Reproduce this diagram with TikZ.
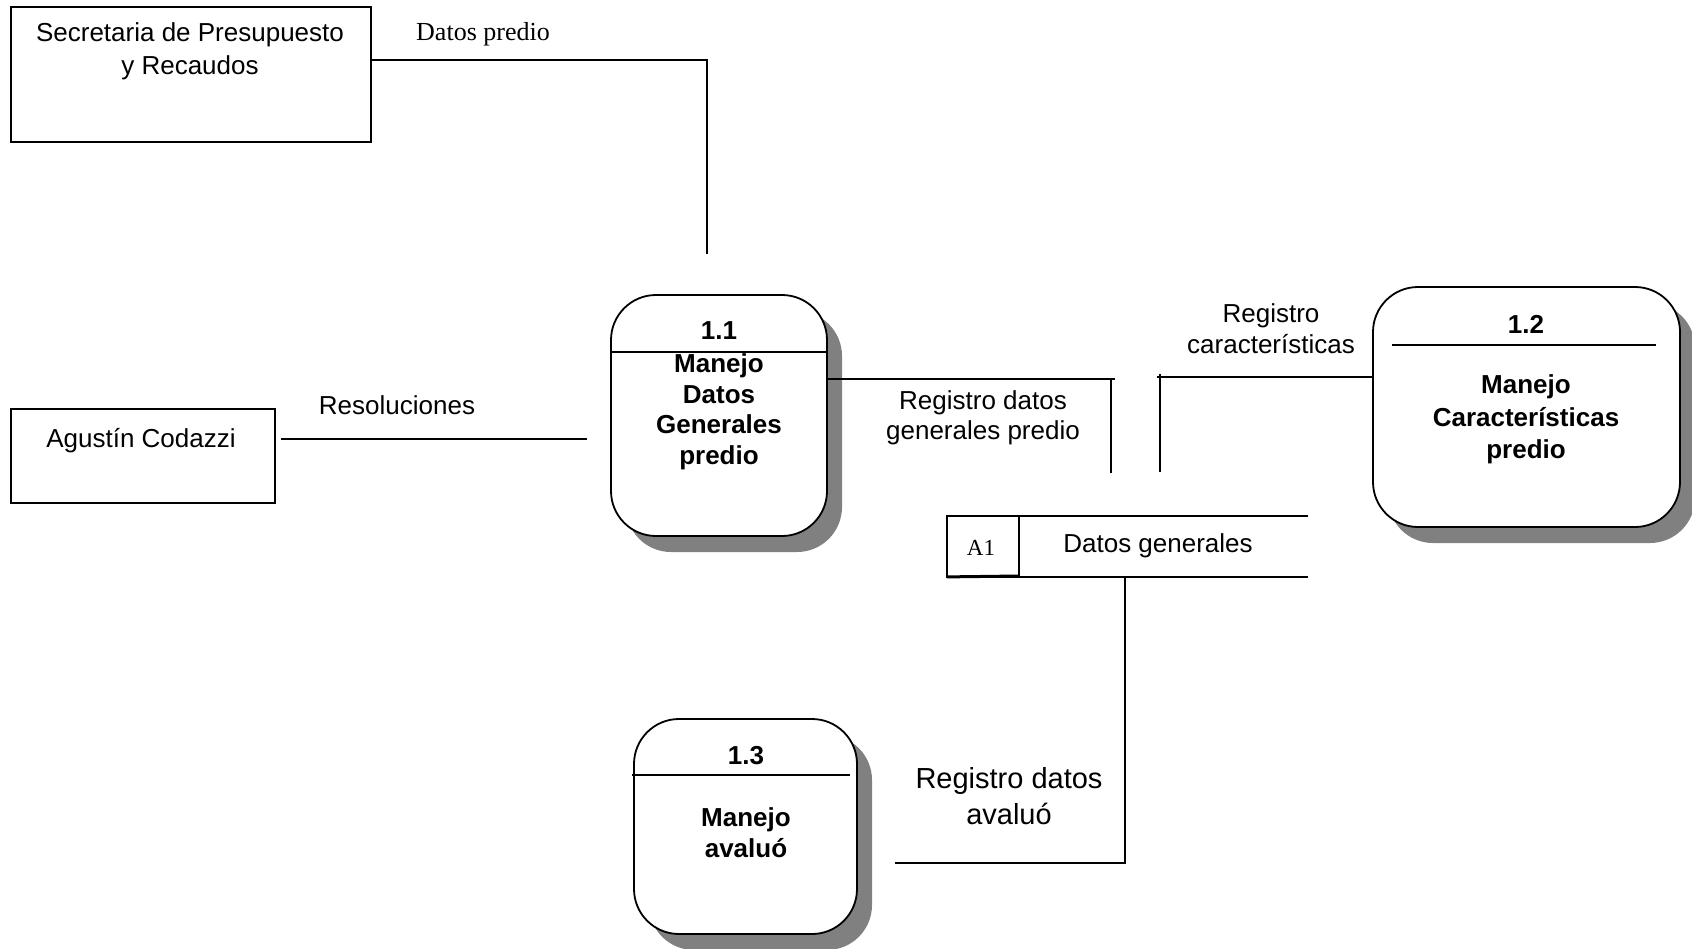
\documentclass[tikz,border=0pt]{standalone}
\usepackage{fontspec}
\setmainfont{Liberation Sans}
\newfontfamily\timesfont{Liberation Serif}
\usetikzlibrary{shadows}
\begin{document}
\begin{tikzpicture}[x=1pt,y=-1pt,line width=1.8pt,
  entity/.style={draw, rectangle, inner sep=0pt},
  proc/.style={draw, rectangle, rounded corners=45pt, fill=white, inner sep=0pt,
    drop shadow={shadow xshift=15pt, shadow yshift=-16pt, fill=black!50, opacity=1}},
  txt/.style={font=\fontsize{26}{31}\selectfont, align=center, inner sep=0pt},
  btxt/.style={font=\fontsize{26}{31}\selectfont\bfseries, align=center, inner sep=0pt},
  serif/.style={font=\timesfont\fontsize{26}{31}\selectfont, inner sep=0pt},
]
\useasboundingbox (0,0) rectangle (1692,948);
\fill[white] (0,0) rectangle (1692,948);

% external entities
\node[entity, minimum width=360pt, minimum height=135pt] (sec) at (191,74.5) {};
\node[txt, font=\fontsize{26}{32.5}\selectfont] (sect) at (190,51.5) {Secretaria de Presupuesto\\y Recaudos};

\node[entity, minimum width=264pt, minimum height=94pt] (ag) at (143,456) {};
\node[txt] (agt) at (141,441) {Agustín Codazzi};

% process 1.1
\node[proc, minimum width=216pt, minimum height=241pt] (p11) at (719,415.5) {};
\draw (611,352) -- (827,352);
\node[btxt] (p11n) at (719,331) {1.1};
\node[btxt, font=\fontsize{26}{30.5}\selectfont\bfseries] (p11t) at (719,412) {Manejo\\Datos\\Generales\\predio};

% process 1.2
\node[proc, minimum width=307pt, minimum height=240pt] (p12) at (1526.5,407) {};
\draw (1392,345) -- (1656,345);
\node[btxt] (p12n) at (1526,324) {1.2};
\node[btxt, font=\fontsize{26}{32.5}\selectfont\bfseries] (p12t) at (1526,419.5) {Manejo\\Características\\predio};

% process 1.3
\node[proc, minimum width=223pt, minimum height=215pt] (p13) at (745.5,826.5) {};
\draw (632,775) -- (850,775);
\node[btxt] (p13n) at (746,756) {1.3};
\node[btxt] (p13t) at (746,832.5) {Manejo\\avaluó};

% data store A1
\node[minimum width=359pt, minimum height=59pt, inner sep=0pt] (st) at (1127.5,546.5) {};
\draw (st.north east) -- (st.north west) -- (st.south west) -- (st.south east);
\draw (1019,517) -- (1019,576);
\draw[line width=3pt] (st.south west) -- (1019,576);
\node[font=\timesfont\fontsize{23}{28}\selectfont, inner sep=0pt] (sta) at (981,548) {A1};
\node[txt] (stt) at (1158,546) {Datos generales};

% data flows
\coordinate (dpA) at (707,60);
\coordinate (dpB) at (707,254);
\draw (sec.east |- dpA) -- (dpA) -- (dpB);
\node[serif] (dpl) at (483,34) {Datos predio};

\coordinate (rsA) at (281,439);
\coordinate (rsB) at (587,439);
\draw (rsA) -- (rsB);
\node[txt] (rsl) at (397,405) {Resoluciones};

\coordinate (rdA) at (1115,379);
\coordinate (rdB) at (1111,473);
\draw (p11.east |- rdA) -- (rdA);
\draw (rdB |- rdA) -- (rdB);
\node[txt, font=\fontsize{26}{30}\selectfont] (rdl) at (983,418) {Registro datos\\generales predio};

\coordinate (rcA) at (1157,377);
\coordinate (rcT) at (1160,374);
\coordinate (rcB) at (1160,472);
\draw (p12.west |- rcA) -- (rcA);
\draw (rcT) -- (rcB);
\node[txt] (rcl) at (1271,328.5) {Registro\\características};

\coordinate (avA) at (1125,863);
\coordinate (avB) at (895,863);
\draw (st.south -| avA) -- (avA) -- (avB);
\node[txt, font=\fontsize{29}{36}\selectfont] (avl) at (1009,796) {Registro datos\\avaluó};
\end{tikzpicture}
\end{document}
